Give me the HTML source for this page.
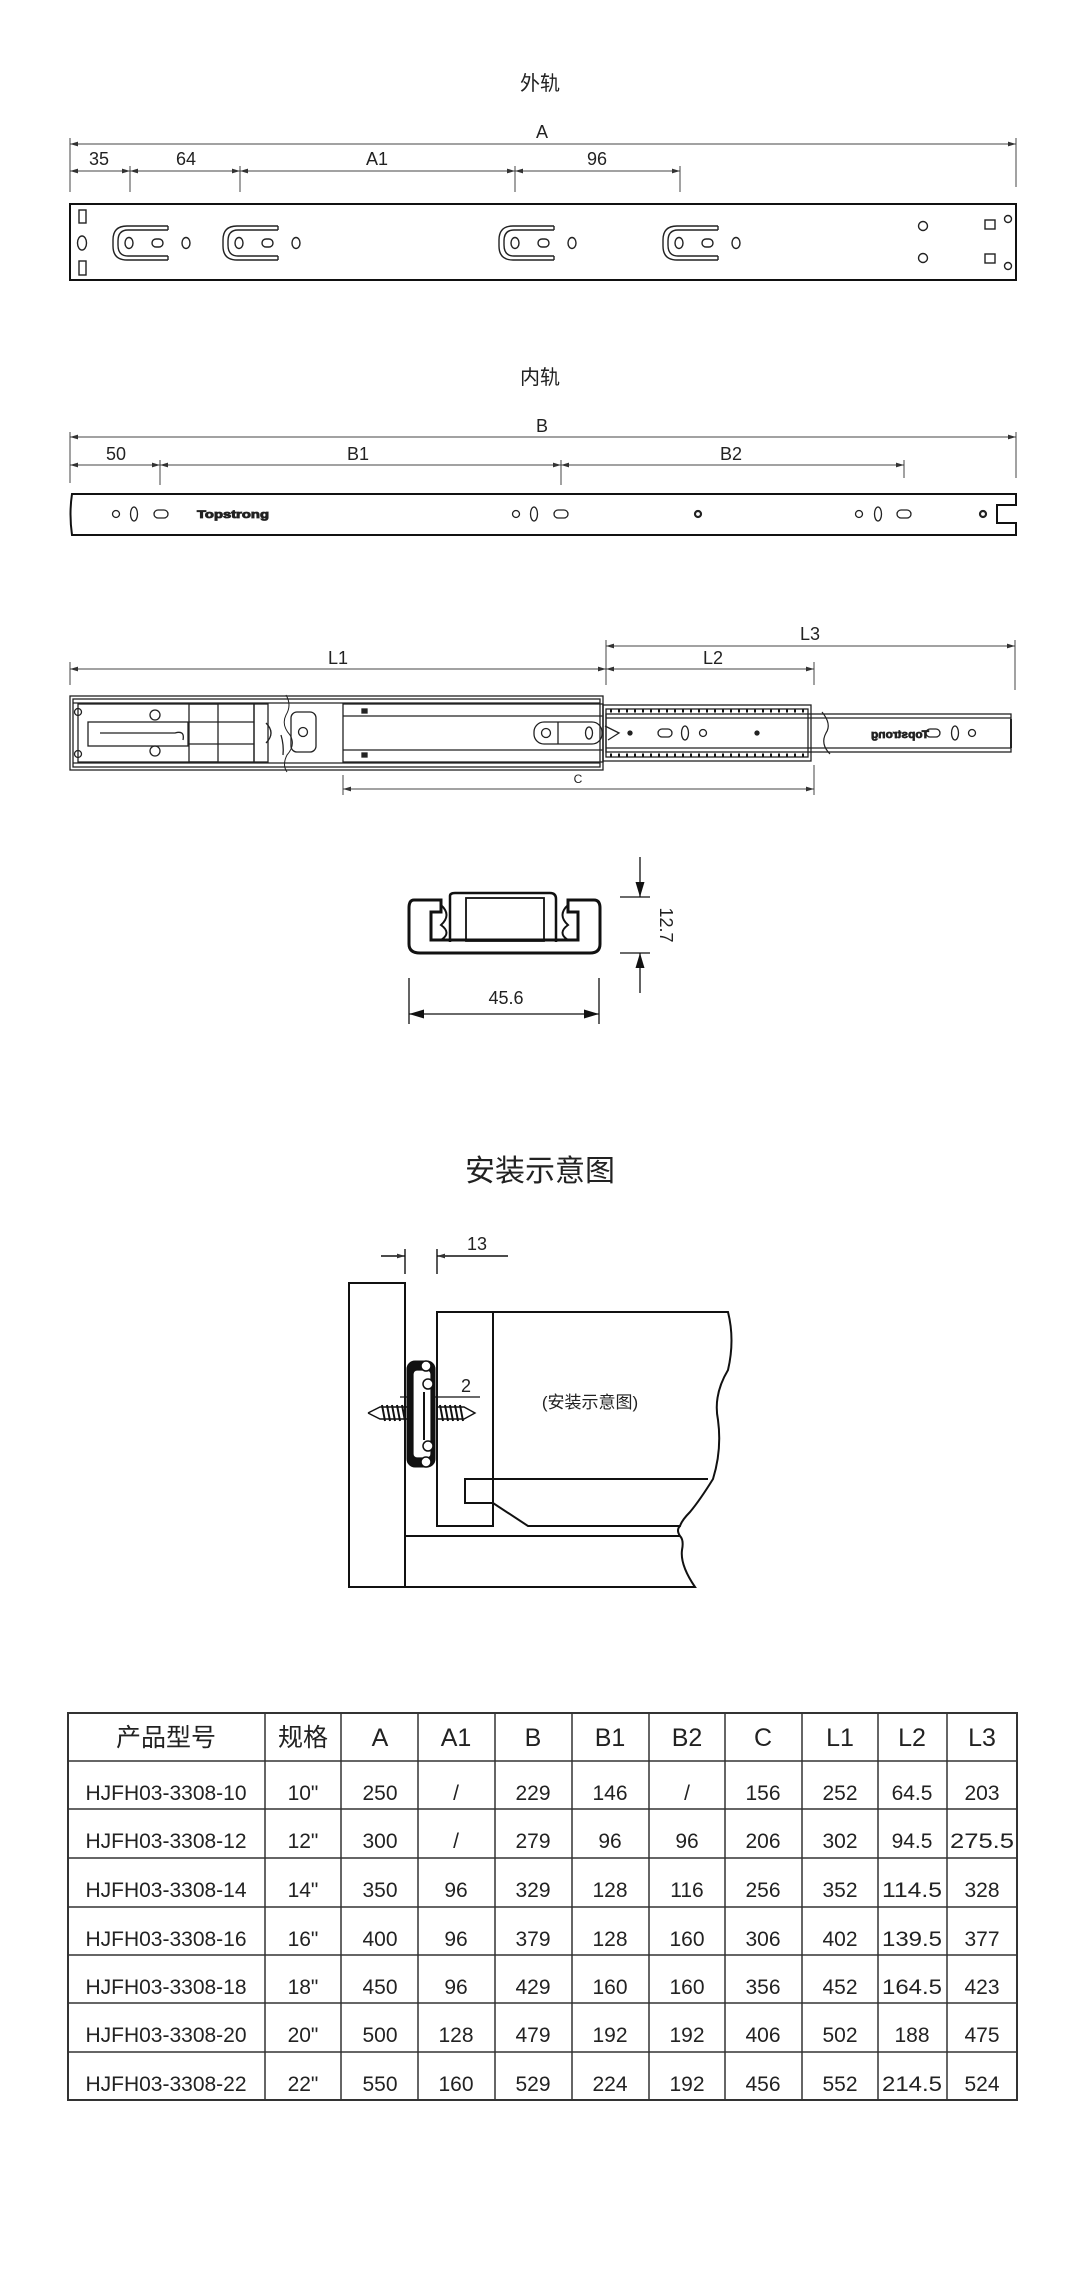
<!DOCTYPE html>
<html><head><meta charset="utf-8"><style>
html,body{margin:0;padding:0;background:#fff;}
svg{display:block;}
text{font-family:"Liberation Sans","Noto Sans CJK SC",sans-serif;fill:#222;}
</style></head><body>
<svg width="1080" height="2277" viewBox="0 0 1080 2277" xmlns="http://www.w3.org/2000/svg">
<defs>
<marker id="ar" viewBox="0 0 10 6" refX="10" refY="3" markerWidth="8" markerHeight="5" orient="auto-start-reverse" markerUnits="userSpaceOnUse"><path d="M0,0 L10,3 L0,6 z" fill="#333"/></marker>
<marker id="ab" viewBox="0 0 10 6" refX="10" refY="3" markerWidth="16" markerHeight="9" orient="auto-start-reverse" markerUnits="userSpaceOnUse"><path d="M0,0 L10,3 L0,6 z" fill="#111"/></marker>
<g id="uslot" fill="none" stroke="#222" stroke-width="1.4">
<path d="M55,0 H14 Q0,0 0,14 V20 Q0,34 14,34 H55"/>
<path d="M55,4 H15 Q5,4 5,15 V19 Q5,30 15,30 H55"/>
<path d="M55,0 V4 M55,30 V34"/>
<ellipse cx="16" cy="17" rx="4" ry="5.5"/>
<rect x="39" y="13" width="11" height="8" rx="4"/>
<ellipse cx="73" cy="17" rx="4" ry="5.5"/>
</g>
</defs>

<!-- 外轨 -->
<text x="540" y="90" font-size="20" text-anchor="middle">外轨</text>
<g stroke="#444" stroke-width="1" fill="none">
<line x1="70" y1="144" x2="1016" y2="144" marker-start="url(#ar)" marker-end="url(#ar)"/>
<line x1="70" y1="138" x2="70" y2="192"/><line x1="1016" y1="138" x2="1016" y2="187"/>
<line x1="70" y1="171" x2="130" y2="171" marker-start="url(#ar)" marker-end="url(#ar)"/>
<line x1="130" y1="171" x2="240" y2="171" marker-start="url(#ar)" marker-end="url(#ar)"/>
<line x1="240" y1="171" x2="515" y2="171" marker-start="url(#ar)" marker-end="url(#ar)"/>
<line x1="515" y1="171" x2="680" y2="171" marker-start="url(#ar)" marker-end="url(#ar)"/>
<line x1="130" y1="166" x2="130" y2="192"/><line x1="240" y1="166" x2="240" y2="192"/>
<line x1="515" y1="166" x2="515" y2="192"/><line x1="680" y1="166" x2="680" y2="192"/>
</g>
<g font-size="18" text-anchor="middle">
<text x="542" y="138">A</text><text x="99" y="165">35</text><text x="186" y="165">64</text>
<text x="377" y="165">A1</text><text x="597" y="165">96</text>
</g>
<rect x="70" y="204" width="946" height="76" fill="none" stroke="#111" stroke-width="2"/>
<g fill="none" stroke="#222" stroke-width="1.4">
<rect x="79" y="210" width="7" height="13"/><rect x="79" y="261" width="7" height="14"/>
<ellipse cx="82" cy="243" rx="4.5" ry="7"/>
<circle cx="923" cy="226" r="4.5"/><circle cx="923" cy="258" r="4.5"/>
<rect x="985" y="220" width="10" height="9"/><rect x="985" y="254" width="10" height="9"/>
<circle cx="1008" cy="219" r="3.5"/><circle cx="1008" cy="266" r="3.5"/>
</g>
<use href="#uslot" x="113" y="226"/><use href="#uslot" x="223" y="226"/>
<use href="#uslot" x="499" y="226"/><use href="#uslot" x="663" y="226"/>

<!-- 内轨 -->
<text x="540" y="384" font-size="20" text-anchor="middle">内轨</text>
<g stroke="#444" stroke-width="1" fill="none">
<line x1="70" y1="437" x2="1016" y2="437" marker-start="url(#ar)" marker-end="url(#ar)"/>
<line x1="70" y1="432" x2="70" y2="483"/><line x1="1016" y1="432" x2="1016" y2="478"/>
<line x1="70" y1="465" x2="160" y2="465" marker-start="url(#ar)" marker-end="url(#ar)"/>
<line x1="160" y1="465" x2="561" y2="465" marker-start="url(#ar)" marker-end="url(#ar)"/>
<line x1="561" y1="465" x2="904" y2="465" marker-start="url(#ar)" marker-end="url(#ar)"/>
<line x1="160" y1="460" x2="160" y2="485"/><line x1="561" y1="460" x2="561" y2="485"/><line x1="904" y1="460" x2="904" y2="478"/>
</g>
<g font-size="18" text-anchor="middle">
<text x="542" y="432">B</text><text x="116" y="460">50</text><text x="358" y="460">B1</text><text x="731" y="460">B2</text>
</g>
<path d="M72,494 H1016 V505 H997 V523 H1016 V535 H72 Q69,514 72,494 Z" fill="none" stroke="#111" stroke-width="2"/>
<g fill="none" stroke="#222" stroke-width="1.3">
<circle cx="116" cy="514" r="3.5"/><ellipse cx="134" cy="514" rx="3.5" ry="7"/><rect x="154" y="510" width="14" height="8" rx="4"/>
<circle cx="516" cy="514" r="3.5"/><ellipse cx="534" cy="514" rx="3.5" ry="7"/><rect x="554" y="510" width="14" height="8" rx="4"/>
<circle cx="859" cy="514" r="3.5"/><ellipse cx="878" cy="514" rx="3.5" ry="7"/><rect x="897" y="510" width="14" height="8" rx="4"/>
<circle cx="698" cy="514" r="3" stroke-width="2.2"/><circle cx="983" cy="514" r="3" stroke-width="2.2"/>
</g>
<text x="197" y="518" font-size="11" font-weight="bold" textLength="72" lengthAdjust="spacingAndGlyphs" fill="#fff" stroke="#222" stroke-width="0.8">Topstrong</text>

<!-- assembly -->
<g stroke="#444" stroke-width="1" fill="none">
<line x1="606" y1="646" x2="1015" y2="646" marker-start="url(#ar)" marker-end="url(#ar)"/>
<line x1="70" y1="669" x2="606" y2="669" marker-start="url(#ar)" marker-end="url(#ar)"/>
<line x1="606" y1="669" x2="814" y2="669" marker-start="url(#ar)" marker-end="url(#ar)"/>
<line x1="70" y1="662" x2="70" y2="685"/><line x1="606" y1="640" x2="606" y2="685"/>
<line x1="814" y1="662" x2="814" y2="685"/><line x1="1015" y1="640" x2="1015" y2="690"/>
<line x1="343" y1="789" x2="814" y2="789" marker-start="url(#ar)" marker-end="url(#ar)"/>
<line x1="343" y1="775" x2="343" y2="795"/><line x1="814" y1="765" x2="814" y2="795"/>
</g>
<g font-size="18" text-anchor="middle">
<text x="338" y="664">L1</text><text x="713" y="664">L2</text><text x="810" y="640">L3</text>
</g>
<text x="578" y="783" font-size="12" text-anchor="middle">C</text>
<g fill="none" stroke="#222" stroke-width="1.3">
<rect x="70" y="696" width="533" height="74"/>
<rect x="73" y="699" width="527" height="68"/>
<line x1="73" y1="703" x2="600" y2="703"/><line x1="73" y1="763" x2="600" y2="763"/>
<rect x="78" y="704" width="140" height="58"/>
<rect x="88" y="722" width="100" height="24"/>
<circle cx="78" cy="712" r="3.5"/><circle cx="78" cy="754" r="3.5"/>
<circle cx="155" cy="715" r="5"/><circle cx="155" cy="751" r="5"/>
<path d="M100,733 H175 Q185,730 183,740"/>
<rect x="189" y="704" width="65" height="58"/>
<line x1="189" y1="722" x2="254" y2="722"/><line x1="189" y1="744" x2="254" y2="744"/>
<rect x="254" y="704" width="14" height="58"/>
<path d="M266,723 Q276,733 266,743"/>
<path d="M281,735 Q284,745 283,755"/>
<rect x="291" y="712" width="25" height="40" rx="6"/><circle cx="303" cy="732" r="4.5"/>
<path d="M286,695 Q292,705 286,715 Q281,725 290,735 Q296,745 287,755 Q282,765 287,772" stroke-width="1"/>
<rect x="343" y="704" width="260" height="58"/>
<line x1="343" y1="716" x2="603" y2="716"/><line x1="343" y1="750" x2="603" y2="750"/>
<rect x="362" y="709" width="5" height="4" fill="#222"/><rect x="362" y="753" width="5" height="4" fill="#222"/>
<rect x="603" y="705" width="208" height="56"/>
<rect x="606" y="709" width="202" height="48"/>
<rect x="606" y="714" width="405" height="38"/>
<line x1="606" y1="718" x2="1011" y2="718"/><line x1="606" y1="748" x2="1011" y2="748"/>
<rect x="534" y="722" width="68" height="22" rx="10"/>
<circle cx="546" cy="733" r="4.5"/><ellipse cx="589" cy="733" rx="3.5" ry="6"/>
<line x1="558" y1="722" x2="558" y2="744"/>
<path d="M605,726 L619,733 L608,740"/>
<circle cx="630" cy="733" r="2" fill="#222"/>
<rect x="658" y="729" width="14" height="8" rx="4"/><ellipse cx="685" cy="733" rx="3.5" ry="7"/><circle cx="703" cy="733" r="3.5"/>
<circle cx="757" cy="733" r="2" fill="#222"/>
<rect x="926" y="729" width="14" height="8" rx="4"/><ellipse cx="955" cy="733" rx="3.5" ry="7"/><circle cx="972" cy="733" r="3.5"/>
<path d="M822,712 Q832,724 826,733 Q820,744 830,754" stroke-width="1.2"/>
<line x1="1011" y1="719" x2="1011" y2="748" stroke-width="2"/>
</g>
<g stroke="#111" stroke-width="3" stroke-dasharray="2,6">
<line x1="610" y1="711" x2="808" y2="711"/><line x1="610" y1="755" x2="808" y2="755"/>
</g>
<text x="900" y="738" font-size="11" font-weight="bold" text-anchor="middle" transform="translate(1800,0) scale(-1,1)" textLength="58" lengthAdjust="spacingAndGlyphs" fill="#fff" stroke="#222" stroke-width="0.7">Topstrong</text>

<!-- cross section -->
<g fill="none" stroke="#111">
<path d="M414,900 H441 V912 H431 V940 H578 V912 H568 V900 H594 Q600,900 600,908 V944 Q600,953 590,953 H420 Q409,953 409,944 V908 Q409,900 414,900 Z" stroke-width="3"/>
<path d="M450,896 Q450,893 455,893 H550 Q556,893 556,899 V942 M450,896 V942" stroke-width="2.5"/>
<rect x="466" y="898" width="78" height="43" stroke-width="1.8"/>
<path d="M441,905 Q452,915 441,925 Q452,933 441,940 M568,905 Q557,915 568,925 Q557,933 568,940" stroke-width="2"/>
<line x1="620" y1="897" x2="650" y2="897" stroke-width="1.3"/><line x1="620" y1="953" x2="650" y2="953" stroke-width="1.3"/>
<line x1="640" y1="857" x2="640" y2="897" stroke-width="1.3" marker-end="url(#ab)"/>
<line x1="640" y1="993" x2="640" y2="953" stroke-width="1.3" marker-end="url(#ab)"/>
<line x1="409" y1="978" x2="409" y2="1024" stroke-width="1.3"/><line x1="599" y1="978" x2="599" y2="1024" stroke-width="1.3"/>
<line x1="409" y1="1014" x2="599" y2="1014" stroke-width="1.3" marker-start="url(#ab)" marker-end="url(#ab)"/>
</g>
<text x="506" y="1004" font-size="18" text-anchor="middle">45.6</text>
<text x="0" y="0" font-size="18" text-anchor="middle" transform="translate(660,925) rotate(90)">12.7</text>

<!-- 安装示意图 -->
<text x="540" y="1181" font-size="30" text-anchor="middle">安装示意图</text>
<g fill="none" stroke="#111" stroke-width="1.4">
<line x1="381" y1="1256" x2="405" y2="1256" marker-end="url(#ar)"/>
<line x1="508" y1="1256" x2="437" y2="1256" marker-end="url(#ar)"/>
<line x1="405" y1="1249" x2="405" y2="1274"/><line x1="437" y1="1249" x2="437" y2="1274"/>
<g stroke-width="2">
<rect x="349" y="1283" width="56" height="304"/>
<path d="M405,1536 H680 M405,1587 H695 Q680,1565 682,1550 Q684,1540 680,1536 Q676,1530 680,1526"/>
<path d="M437,1312 V1526 H493 V1312 Z"/>
<path d="M493,1312 H728 Q735,1340 728,1370 Q713,1395 718,1420 Q722,1450 713,1479 Q700,1500 690,1512 Q682,1520 680,1526 H528 L493,1503 H465 V1479 H708"/>
<line x1="493" y1="1479" x2="493" y2="1503"/>
</g>
<line x1="400" y1="1397" x2="480" y2="1397" stroke-width="1.2"/>
</g>
<text x="477" y="1250" font-size="18" text-anchor="middle">13</text>
<text x="466" y="1392" font-size="18" text-anchor="middle">2</text>
<text x="590" y="1408" font-size="17" text-anchor="middle">(安装示意图)</text>
<!-- slide -->
<g stroke="#111">
<rect x="407" y="1361" width="28" height="106" rx="8" fill="#111"/>
<rect x="413" y="1370" width="18" height="88" rx="4" fill="#fff" stroke-width="1.2"/>
<circle cx="426" cy="1366" r="5" fill="#fff" stroke-width="1.5"/><circle cx="426" cy="1462" r="5" fill="#fff" stroke-width="1.5"/>
<circle cx="428" cy="1384" r="5" fill="#fff" stroke-width="1.5"/><circle cx="428" cy="1446" r="5" fill="#fff" stroke-width="1.5"/>
<line x1="424" y1="1392" x2="424" y2="1440" stroke-width="2"/>
<path d="M368,1413 L380,1407 L407,1407 M368,1413 L380,1419 L407,1419 M437,1407 L464,1407 L475,1413 L464,1419 L437,1419" fill="none" stroke-width="1.4"/>
<path d="M382,1405 l3,16 M387,1405 l3,16 M392,1405 l3,16 M397,1405 l3,16 M402,1405 l3,16 M440,1405 l3,16 M445,1405 l3,16 M450,1405 l3,16 M455,1405 l3,16 M460,1405 l3,16" stroke-width="2"/>
</g>

<!-- table -->
<g stroke="#333" stroke-width="1.5" fill="none">
<rect x="68" y="1713" width="949" height="387" stroke-width="2"/>
<path d="M68,1761H1017 M68,1809H1017 M68,1858H1017 M68,1907H1017 M68,1955H1017 M68,2003H1017 M68,2052H1017"/>
<path d="M265,1713V2100 M341,1713V2100 M418,1713V2100 M495,1713V2100 M572,1713V2100 M649,1713V2100 M725,1713V2100 M802,1713V2100 M878,1713V2100 M947,1713V2100"/>
</g>
<g font-size="25" text-anchor="middle">
<text x="166" y="1746" font-size="25">产品型号</text><text x="303" y="1746">规格</text>
<text x="380" y="1746">A</text><text x="456" y="1746">A1</text><text x="533" y="1746">B</text><text x="610" y="1746">B1</text>
<text x="687" y="1746">B2</text><text x="763" y="1746">C</text><text x="840" y="1746">L1</text><text x="912" y="1746">L2</text><text x="982" y="1746">L3</text>
</g>
<g font-size="21" text-anchor="middle">
<g transform="translate(0,1800)"><text x="166" y="0">HJFH03-3308-10</text><text x="303">10"</text><text x="380">250</text><text x="456">/</text><text x="533">229</text><text x="610">146</text><text x="687">/</text><text x="763">156</text><text x="840">252</text><text x="912">64.5</text><text x="982">203</text></g>
<g transform="translate(0,1848)"><text x="166" y="0">HJFH03-3308-12</text><text x="303">12"</text><text x="380">300</text><text x="456">/</text><text x="533">279</text><text x="610">96</text><text x="687">96</text><text x="763">206</text><text x="840">302</text><text x="912">94.5</text><text x="982" textLength="64" lengthAdjust="spacingAndGlyphs">275.5</text></g>
<g transform="translate(0,1897)"><text x="166" y="0">HJFH03-3308-14</text><text x="303">14"</text><text x="380">350</text><text x="456">96</text><text x="533">329</text><text x="610">128</text><text x="687">116</text><text x="763">256</text><text x="840">352</text><text x="912" textLength="60" lengthAdjust="spacingAndGlyphs">114.5</text><text x="982">328</text></g>
<g transform="translate(0,1946)"><text x="166" y="0">HJFH03-3308-16</text><text x="303">16"</text><text x="380">400</text><text x="456">96</text><text x="533">379</text><text x="610">128</text><text x="687">160</text><text x="763">306</text><text x="840">402</text><text x="912" textLength="60" lengthAdjust="spacingAndGlyphs">139.5</text><text x="982">377</text></g>
<g transform="translate(0,1994)"><text x="166" y="0">HJFH03-3308-18</text><text x="303">18"</text><text x="380">450</text><text x="456">96</text><text x="533">429</text><text x="610">160</text><text x="687">160</text><text x="763">356</text><text x="840">452</text><text x="912" textLength="60" lengthAdjust="spacingAndGlyphs">164.5</text><text x="982">423</text></g>
<g transform="translate(0,2042)"><text x="166" y="0">HJFH03-3308-20</text><text x="303">20"</text><text x="380">500</text><text x="456">128</text><text x="533">479</text><text x="610">192</text><text x="687">192</text><text x="763">406</text><text x="840">502</text><text x="912">188</text><text x="982">475</text></g>
<g transform="translate(0,2091)"><text x="166" y="0">HJFH03-3308-22</text><text x="303">22"</text><text x="380">550</text><text x="456">160</text><text x="533">529</text><text x="610">224</text><text x="687">192</text><text x="763">456</text><text x="840">552</text><text x="912" textLength="60" lengthAdjust="spacingAndGlyphs">214.5</text><text x="982">524</text></g>
</g>
</svg>
</body></html>
